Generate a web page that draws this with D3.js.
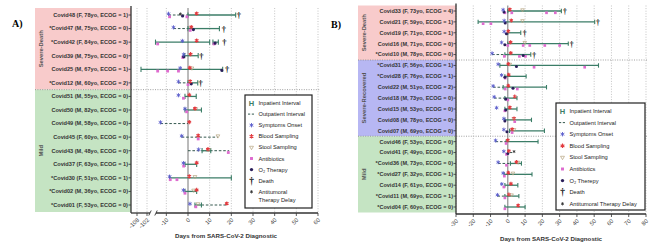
<!DOCTYPE html>
<html><head><meta charset="utf-8">
<script src="https://cdn.jsdelivr.net/npm/d3@7"></script>
<style>body{margin:0;background:#fff}svg{display:block}</style>
</head><body><svg id="c" width="650" height="247"></svg>
<script>
// ---------- Panel A data ----------
const patientsA = ["Covid48 (F, 78yo, ECOG = 1)","*Covid47 (M, 75yo, ECOG = 0)","*Covid42 (F, 84yo, ECOG = 3)","Covid39 (M, 75yo, ECOG = 0)","Covid25 (M, 67yo, ECOG = 1)","*Covid12 (M, 60yo, ECOG = 2)","Covid51 (M, 55yo, ECOG = 0)","Covid50 (M, 82yo, ECOG = 0)","Covid49 (M, 58yo, ECOG = 0)","Covid45 (F, 60yo, ECOG = 0)","Covid43 (M, 48yo, ECOG = 0)","Covid37 (F, 63yo, ECOG = 1)","*Covid30 (F, 51yo, ECOG =  1)","*Covid02 (M, 36yo, ECOG = 0)","*Covid01 (F, 53yo, ECOG = 0)"];
const groupsA = ["Severe-Death","Mild"];
const groupSizesA = [6,9];
const inpatientA = [[[0,22]],[[0,14.5]],[[-15,10],[11.5,14]],[[-1.5,4.7]],[[-105.6,16]],[[0,4.5]],[[-1.4,3.8]],[[-1.4,6.2]],[],[],[[6.5,10.5]],[[-1.4,4]],[[-8.5,20]],[[-1.4,4]],[[3.2,6.2]]];
const outpatientA = [[[-9,0]],[[-6.7,0]],[],[],[],[[-4.4,0]],[],[],[[-12.7,0]],[[-2.9,13.8]],[[0,19]],[],[],[],[[6.2,17.6]]];
const symptomsA = [-9,-6.7,-2.6,-2,-3.6,-4.4,-4.4,-1.4,-12.7,-2.9,4.9,-2.1,-8.5,-2.1,0.9];
const bloodA = [[4],[1.5],[4],[1.2],[0.8],[1],[0.6],[3.2],[0.6],[4.7],[9.2],[4],[0.6],[4],[17.9]];
const stoolA = [[],[],[],[],[1.8],[],[],[3.6],[],[13.8],[9.5],[],[3.2],[2.6],[4.6]];
const antibioticsA = [[-8.5,-0.5],[1],[-14,12],[-2.4],[-14,-9.4,-4.4],[0],[-2.1],[-0.6],[],[4.7],[18.6],[-2],[-8.2,-5.1],[-1.4],[3.6]];
const o2A = [[-2.5],[2.5],[12.5],[-2],[15.6],[1.5],[],[],[],[],[],[],[],[],[]];
const deathA = [23.5,16.5,16.8,6.2,18,5.8,null,null,null,null,null,null,null,null,null];
const antitumorA = [-3.5,null,null,null,null,null,null,null,null,null,null,null,null,null,null];
const ticksA = [-108,-102,-10,0,10,20,30,40,50,60];

// ---------- Panel B data ----------
const patientsB = ["Covid33 (F, 73yo, ECOG = 4)","Covid21 (F, 59yo, ECOG = 1)","Covid19 (F, 71yo, ECOG = 1)","Covid16 (M, 71yo, ECOG = 0)","*Covid10 (M, 78yo, ECOG = 0)","*Covid31 (F, 56yo, ECOG = 1)","*Covid28 (F, 76yo, ECOG = 1)","Covid22 (M, 51yo, ECOG = 2)","Covid18 (M, 73yo, ECOG = 0)","Covid15 (M, 53yo, ECOG = 0)","Covid08 (M, 78yo, ECOG = 0)","Covid07 (M, 69yo, ECOG = 0)","Covid46 (F, 53yo, ECOG = 0)","Covid41 (F, 49yo, ECOG = 0)","*Covid36 (M, 73yo, ECOG = 0)","*Covid27 (F, 32yo, ECOG = 1)","Covid14 (F, 61yo, ECOG = 0)","*Covid11 (M, 69yo, ECOG = 1)","*Covid04 (F, 60yo, ECOG = 0)"];
const groupsB = ["Severe-Death","Severe-Recovered","Mild"];
const groupSizesB = [5,7,7];
const inpatientB = [[[0,31]],[[-17.2,50.3]],[[0,7.5]],[[0,35]],[[-1.7,13.3]],[[-4.6,52.5]],[[-1.7,10.6]],[[-2.7,22.4]],[[-1.7,5.3]],[[-1.7,5.3]],[[-1.7,13.7]],[[1,21.2]],[[-1,17.5]],[],[[1.5,7.9]],[[-2.1,14]],[[-1.7,5.8]],[[-1.7,6.4]],[[-1.7,10]]];
const outpatientB = [[],[],[],[],[[-9.1,-1.7]],[],[],[[-8.5,-2.7]],[[-7.9,-1.7]],[],[],[],[[-7.1,-1]],[[1,3.5]],[[-5.6,1.5]],[],[],[[-6,-1.7]],[]];
const symptomsB = [-2.7,-2.1,-2.1,-3.6,-9.1,-5.6,-3.6,-8.5,-7.9,-6.5,-2.3,-2.3,-7.1,-2.3,-5.6,-2.7,-3.5,-6,null];
const bloodB = [[1.2],[2],[0.3],[1.6],[1.7],[0.3],[0.5],[0.3],[4],[1.2],[3.6],[2.5],[0],[0.6],[5],[0.3],[1.8],[0.6],[6]];
const stoolB = [[8.5],[8.5],[],[9.8],[],[1.2],[],[],[],[],[3.4],[3.6],[],[],[6],[3],[],[2.2],[]];
const antibioticsB = [[-1.7,2.3,22.4,27.5],[-14.3,-9.8],[],[0,8.9,12.7,21.4,30],[-2,6.7,10.2],[15.2,44.5],[-1.5],[-1.5,5.5],[0],[-1.7],[4],[2.5],[-1],[-0.8],[-0.8],[-2],[-2.3],[-1.7],[-1.7]];
const o2B = [[-2.2],[-1.5],[-0.8],[-1.7],[8.9],[5],[-1.7],[3],[-1.2],[-1.2],[-1.7],[-0.5],[],[0],[],[],[],[],[]];
const deathB = [33,52.2,9.8,37,15.2,null,null,null,null,null,null,null,null,null,null,null,null,null,null];
const antitumorB = [null,null,null,null,null,null,null,null,null,null,null,null,null,3.6,null,null,null,null,null];
const ticksB = [-30,-20,-10,0,10,20,30,40,50,60,70,80];

const legendLabelsA = ["Inpatient Interval","Outpatient Interval","Symptoms Onset","Blood Sampling","Stool Sampling","Antibiotics","O\u2082 Therapy","Death","Antitumoral|Therapy Delay"];
const legendLabelsB = ["Inpatient Interval","Outpatient Interval","Symptoms Onset","Blood Sampling","Stool Sampling","Antibiotics","O\u2082 Therepy","Death","Antitumoral Therapy Delay"];

const groupColors = {"Severe-Death":"#f8cbcb","Severe-Recovered":"#b7b7f3","Mild":"#c5e4c3"};
const C = {inp:"#3b7d67", out:"#35594f", sym:"#5a5ccc", blood:"#e23a3f", stool:"#b4a27c", abx:"#de6ccf", o2:"#2a1e5a"};

const svg = d3.select("#c");
const FONT = "'Liberation Sans', Arial, sans-serif";

function marker(g, type, x, y, s) {
  if (type==="sym") g.append("path").attr("d", d3.symbol(d3.symbolAsterisk, 12*s)()).attr("transform",`translate(${x},${y})`).attr("stroke",C.sym).attr("stroke-width",0.9).attr("fill","none");
  else if (type==="blood") g.append("path").attr("d", d3.symbol(d3.symbolAsterisk, 12*s)()).attr("transform",`translate(${x},${y})`).attr("stroke",C.blood).attr("stroke-width",1.1).attr("fill","none");
  else if (type==="stool") g.append("path").attr("d", d3.symbol(d3.symbolTriangle2, 10*s)()).attr("transform",`translate(${x},${y}) rotate(180)`).attr("stroke",C.stool).attr("stroke-width",0.7).attr("fill","none");
  else if (type==="abx") g.append("path").attr("d", d3.symbol(d3.symbolSquare, 8*s)()).attr("transform",`translate(${x},${y})`).attr("fill",C.abx);
  else if (type==="o2") g.append("path").attr("d", d3.symbol(d3.symbolCircle, 8*s)()).attr("transform",`translate(${x},${y})`).attr("fill",C.o2);
  else if (type==="anti") g.append("path").attr("d", d3.symbol(d3.symbolAsterisk, 7*s)()).attr("transform",`translate(${x},${y})`).attr("stroke","#222").attr("stroke-width",0.7).attr("fill","none");
  else if (type==="death") g.append("text").attr("x",x).attr("y",y+3).attr("text-anchor","middle").attr("font-family","'Liberation Serif', serif").attr("font-weight","bold").attr("font-size",8.5*s).attr("fill","#111").text("\u2020");
}

function drawPanel(p) {
  const g = svg.append("g");
  const x = p.x, y = p.y;
  const X0 = x.range()[0], X1 = x.range()[x.range().length-1];
  let idx = 0;
  p.groups.forEach((gname,k) => {
    const n = p.sizes[k];
    const y0 = idx===0 ? p.top : (y(p.labels[idx-1]) + y(p.labels[idx]))/2;
    const y1 = idx+n===p.labels.length ? p.bottom : (y(p.labels[idx+n-1]) + y(p.labels[idx+n]))/2;
    g.append("rect").attr("x",p.bgX).attr("y",y0).attr("width",X0-p.bgX).attr("height",y1-y0).attr("fill",groupColors[gname]);
    g.append("text").attr("transform",`translate(${p.bgX+8},${(y0+y1)/2}) rotate(-90)`).attr("text-anchor","middle")
      .attr("font-family",FONT).attr("font-weight","bold").attr("font-size",5.8).attr("fill","#555").text(gname);
    if (k>0) g.append("line").attr("x1",p.bgX).attr("x2",X1+2).attr("y1",y0).attr("y2",y0).attr("stroke","#888").attr("stroke-width",0.8).attr("stroke-dasharray","1,1.4");
    idx += n;
  });
  p.ticks.forEach(t => {
    g.append("line").attr("x1",x(t)).attr("x2",x(t)).attr("y1",p.top).attr("y2",p.axisY)
      .attr("stroke", t===0 ? "#777" : "#aaa").attr("stroke-width", t===0 ? 1 : 0.7)
      .attr("stroke-dasharray", t===0 ? null : "1,1.6");
  });
  g.append("line").attr("x1",X0).attr("x2",X0).attr("y1",p.top-2).attr("y2",p.axisY).attr("stroke","#333").attr("stroke-width",1.3);
  p.labels.forEach(l => {
    g.append("line").attr("x1",X0-2.5).attr("x2",X0).attr("y1",y(l)).attr("y2",y(l)).attr("stroke","#333").attr("stroke-width",0.8);
    g.append("text").attr("x",X0-3).attr("y",y(l)+1.9).attr("text-anchor","end").attr("font-family",FONT).attr("font-weight","bold")
      .attr("font-size",p.labelSize).attr("fill","#333").text(l);
  });
  const ax = g.append("g").attr("transform",`translate(0,${p.axisY})`);
  if (p.brk) {
    ax.append("line").attr("x1",X0).attr("x2",p.brk[0]).attr("stroke","#333").attr("stroke-width",1.3);
    ax.append("line").attr("x1",p.brk[1]).attr("x2",X1).attr("stroke","#333").attr("stroke-width",1.3);
    [p.brk[0],p.brk[1]].forEach(b => ax.append("line").attr("x1",b-1.2).attr("x2",b+1.2).attr("y1",2.5).attr("y2",-2.5).attr("stroke","#333").attr("stroke-width",0.9));
  } else {
    ax.append("line").attr("x1",X0).attr("x2",X1).attr("stroke","#333").attr("stroke-width",1.3);
  }
  p.ticks.forEach(t => {
    ax.append("line").attr("x1",x(t)).attr("x2",x(t)).attr("y1",0).attr("y2",3).attr("stroke","#333").attr("stroke-width",0.8);
    ax.append("text").attr("transform",`translate(${x(t)+1},${6}) rotate(-45)`).attr("text-anchor","end").attr("dy","0.35em")
      .attr("font-family",FONT).attr("font-size",5.8).attr("fill","#444").text(t);
  });
  g.append("text").attr("x",p.titleX).attr("y",p.titleY).attr("text-anchor","middle").attr("font-family",FONT).attr("font-weight","bold")
    .attr("font-size",6.2).attr("fill","#333").text("Days from SARS-CoV-2 Diagnostic");
  const s = p.ms;
  p.labels.forEach((l,i) => {
    const yy = y(l);
    p.outpatient[i].forEach(([a,b]) => g.append("line").attr("x1",x(a)).attr("x2",x(b)).attr("y1",yy).attr("y2",yy)
      .attr("stroke",C.out).attr("stroke-width",1).attr("stroke-dasharray","2.6,1.8"));
    p.inpatient[i].forEach(([a,b]) => {
      g.append("line").attr("x1",x(a)).attr("x2",x(b)).attr("y1",yy).attr("y2",yy).attr("stroke",C.inp).attr("stroke-width",1.3);
      [a,b].forEach(v => g.append("line").attr("x1",x(v)).attr("x2",x(v)).attr("y1",yy-p.cap).attr("y2",yy+p.cap).attr("stroke",C.inp).attr("stroke-width",1.1));
    });
    p.antibiotics[i].forEach(v => marker(g,"abx",x(v),yy+1.8,s));
    p.o2[i].forEach(v => marker(g,"o2",x(v),yy+1,s));
    p.stool[i].forEach(v => marker(g,"stool",x(v),yy-1.2,s));
    if (p.symptoms[i]!=null) marker(g,"sym",x(p.symptoms[i]),yy-1.2,s);
    p.blood[i].forEach(v => marker(g,"blood",x(v),yy-1.5,s));
    if (p.antitumor[i]!=null) marker(g,"anti",x(p.antitumor[i]),yy-1,s);
    if (p.death[i]!=null) marker(g,"death",x(p.death[i]),yy,s);
  });
  const L = p.legend;
  g.append("rect").attr("x",L.x).attr("y",L.y).attr("width",L.w).attr("height",L.h).attr("fill","#fff").attr("stroke","#222").attr("stroke-width",1.2);
  p.legendLabels.forEach((lab,k) => {
    const ly = L.y0 + k*L.dy, sx = L.sx;
    if (k===0) g.append("text").attr("x",sx).attr("y",ly+2.6).attr("text-anchor","middle").attr("font-family",FONT).attr("font-weight","bold").attr("font-size",7.5).attr("fill",C.inp).text("H");
    else if (k===1) g.append("line").attr("x1",sx-3.5).attr("x2",sx+3.5).attr("y1",ly).attr("y2",ly).attr("stroke",C.out).attr("stroke-width",1).attr("stroke-dasharray","2.2,1.6");
    else marker(g,["","","sym","blood","stool","abx","o2","death","anti"][k],sx,ly,1.1);
    const parts = lab.split("|");
    parts.forEach((pt,j) => g.append("text").attr("x",L.tx).attr("y",ly+2+j*(L.dy*0.72)).attr("font-family",FONT).attr("font-size",L.fs).attr("fill","#222").text(pt));
  });
}

const xA = d3.scaleLinear().domain([-111.6,-99,-15,60]).range([131,152,155.5,318]);
const yA = d3.scalePoint().domain(patientsA).range([15,205]);
const xB = d3.scaleLinear().domain([-30,80]).range([456,646]);
const yB = d3.scalePoint().domain(patientsB).range([11,207]);

drawPanel({x:xA,y:yA,labels:patientsA,groups:groupsA,sizes:groupSizesA,top:8,bottom:212,axisY:213,bgX:35,brk:[150,156],
  ticks:ticksA,labelSize:5.6,titleX:226,titleY:238,ms:1,cap:2.6,
  inpatient:inpatientA,outpatient:outpatientA,symptoms:symptomsA,blood:bloodA,stool:stoolA,antibiotics:antibioticsA,o2:o2A,death:deathA,antitumor:antitumorA,
  legend:{x:245,y:95,w:67,h:113,y0:103,dy:11.1,sx:251.5,tx:258.5,fs:5.7},legendLabels:legendLabelsA});

drawPanel({x:xB,y:yB,labels:patientsB,groups:groupsB,sizes:groupSizesB,top:5.5,bottom:212.5,axisY:214,bgX:358,brk:null,
  ticks:ticksB,labelSize:5.5,titleX:551,titleY:241,ms:0.9,cap:2.2,
  inpatient:inpatientB,outpatient:outpatientB,symptoms:symptomsB,blood:bloodB,stool:stoolB,antibiotics:antibioticsB,o2:o2B,death:deathB,antitumor:antitumorB,
  legend:{x:556,y:103,w:89,h:107,y0:111,dy:11.6,sx:562.5,tx:569.5,fs:5.7},legendLabels:legendLabelsB});

svg.append("text").attr("x",12).attr("y",27).attr("font-family","'Liberation Serif', serif").attr("font-weight","bold").attr("font-size",10).text("A)");
svg.append("text").attr("x",331).attr("y",28).attr("font-family","'Liberation Serif', serif").attr("font-weight","bold").attr("font-size",10).text("B)");
</script></body></html>
